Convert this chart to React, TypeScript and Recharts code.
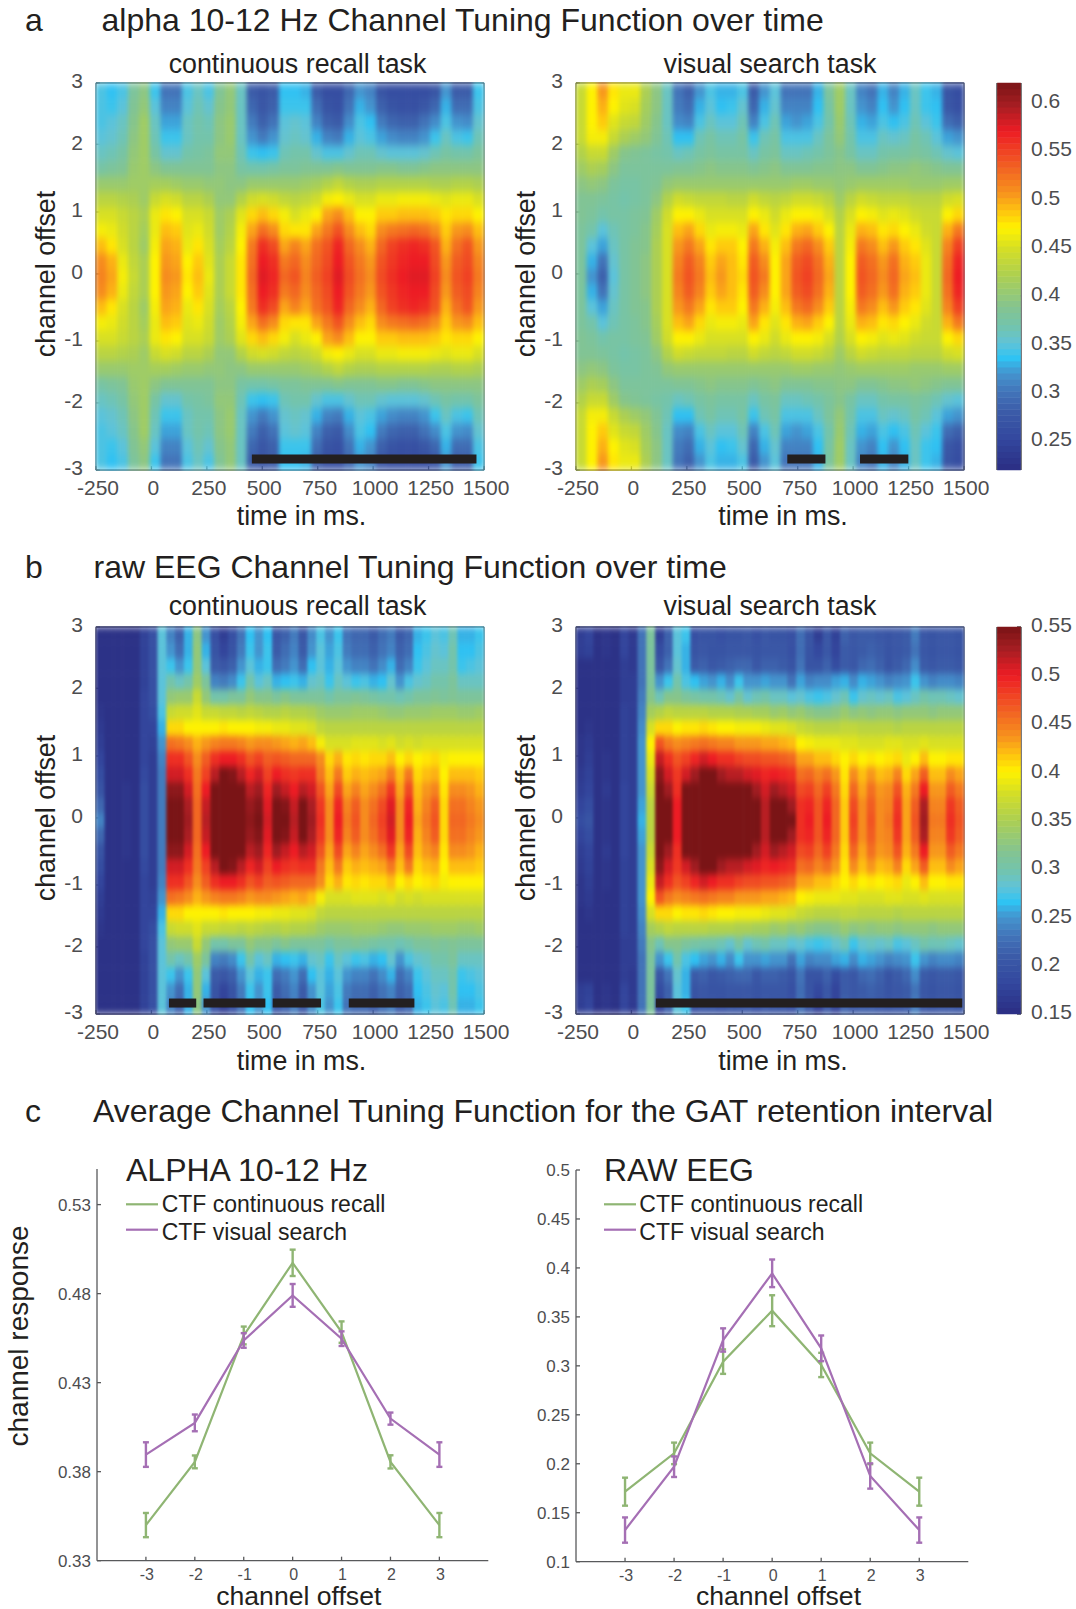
import React from 'react';
import { ScatterChart, Scatter, XAxis, YAxis, LineChart, Line, ErrorBar } from 'recharts';

const timeTicks = [-250, 0, 250, 500, 750, 1000, 1250, 1500];
const offsetTickPositions = [3, 2.05, 1, 0.04, -1, -1.96, -3];
const offsetBands = [0, 0.24, 0.48, 0.72, 0.96, 1.2, 1.44, 1.68, 1.92, 2.16, 2.4, 2.64, 2.88];

const alphaRecall = [
[.515,.50,.465,.44,.42,.47,.51,.505,.475,.49,.46,.42,.44,.475,.53,.575,.565,.53,.54,.515,.535,.55,.575,.545,.525,.51,.545,.56,.57,.575,.575,.55,.51,.54,.55,.52],
[.51,.495,.46,.435,.42,.47,.505,.50,.47,.485,.455,.42,.44,.475,.525,.57,.56,.52,.53,.51,.53,.545,.57,.54,.52,.505,.54,.555,.565,.57,.57,.545,.505,.535,.545,.515],
[.49,.475,.45,.43,.41,.465,.50,.495,.46,.475,.45,.415,.43,.47,.52,.56,.545,.50,.515,.50,.525,.54,.565,.53,.51,.495,.53,.55,.56,.565,.56,.54,.495,.525,.54,.505],
[.465,.46,.445,.43,.415,.46,.49,.485,.455,.46,.445,.41,.425,.465,.50,.525,.51,.48,.475,.475,.50,.52,.54,.51,.49,.48,.51,.52,.525,.53,.525,.51,.485,.505,.51,.49],
[.45,.45,.44,.43,.42,.46,.475,.47,.45,.45,.44,.41,.42,.455,.48,.49,.48,.465,.45,.46,.47,.50,.51,.49,.47,.47,.485,.485,.49,.49,.49,.485,.475,.48,.48,.47],
[.43,.43,.425,.42,.41,.44,.45,.445,.43,.43,.42,.40,.40,.425,.445,.45,.445,.435,.43,.435,.445,.465,.47,.46,.45,.45,.46,.46,.465,.465,.465,.46,.455,.46,.46,.45],
[.405,.405,.405,.41,.41,.415,.415,.41,.405,.405,.40,.40,.395,.395,.405,.405,.405,.405,.405,.41,.415,.425,.435,.425,.42,.42,.425,.425,.425,.425,.425,.42,.42,.425,.425,.42],
[.375,.38,.385,.405,.41,.395,.385,.385,.385,.385,.385,.395,.395,.375,.37,.37,.375,.38,.38,.385,.385,.385,.39,.385,.385,.385,.39,.39,.385,.385,.39,.395,.395,.395,.395,.395],
[.36,.365,.375,.40,.41,.375,.355,.355,.37,.375,.38,.40,.40,.365,.34,.335,.34,.365,.37,.37,.355,.345,.345,.355,.365,.365,.355,.35,.35,.35,.355,.365,.375,.37,.37,.38],
[.35,.355,.365,.395,.41,.365,.34,.34,.36,.37,.37,.395,.405,.36,.32,.305,.32,.355,.36,.355,.33,.31,.305,.33,.35,.345,.325,.315,.31,.31,.32,.34,.36,.345,.34,.365],
[.345,.35,.36,.39,.41,.36,.325,.325,.36,.37,.365,.395,.405,.36,.305,.285,.30,.35,.355,.35,.31,.285,.28,.315,.345,.335,.305,.29,.285,.285,.30,.315,.345,.32,.315,.355],
[.345,.34,.35,.385,.40,.35,.31,.31,.35,.365,.355,.39,.40,.36,.29,.275,.285,.34,.34,.34,.295,.27,.265,.30,.33,.32,.285,.27,.265,.265,.275,.29,.33,.295,.295,.345],
[.345,.335,.345,.38,.395,.34,.30,.30,.345,.36,.345,.385,.40,.36,.28,.27,.28,.335,.335,.33,.28,.26,.26,.29,.32,.31,.27,.26,.26,.26,.26,.27,.32,.28,.28,.34],
];
const alphaSearch = [
[.38,.32,.285,.35,.375,.385,.395,.42,.45,.52,.54,.52,.49,.505,.49,.48,.54,.52,.47,.50,.54,.55,.53,.50,.43,.47,.54,.53,.51,.53,.50,.49,.46,.44,.53,.57],
[.38,.33,.30,.355,.375,.385,.395,.42,.45,.515,.535,.515,.485,.50,.49,.475,.535,.51,.47,.50,.535,.545,.525,.495,.43,.47,.535,.525,.505,.525,.495,.485,.46,.44,.525,.565],
[.38,.35,.325,.36,.375,.385,.39,.42,.45,.505,.52,.50,.475,.485,.485,.47,.52,.495,.465,.49,.52,.53,.51,.485,.43,.465,.52,.51,.49,.505,.485,.475,.455,.44,.515,.55],
[.38,.37,.35,.365,.375,.38,.39,.415,.45,.49,.50,.48,.46,.465,.465,.46,.50,.475,.455,.475,.495,.50,.485,.47,.43,.46,.495,.49,.475,.48,.47,.46,.445,.44,.495,.52],
[.385,.38,.37,.375,.375,.38,.385,.41,.445,.47,.47,.46,.45,.45,.45,.45,.47,.46,.445,.46,.47,.47,.465,.45,.425,.45,.47,.465,.455,.46,.455,.445,.44,.44,.47,.48],
[.385,.385,.38,.375,.37,.375,.38,.395,.425,.445,.44,.435,.435,.435,.43,.43,.445,.435,.43,.435,.445,.445,.44,.43,.41,.43,.445,.44,.435,.435,.435,.43,.43,.43,.445,.45],
[.395,.40,.395,.38,.375,.375,.38,.385,.40,.405,.405,.405,.405,.405,.405,.405,.405,.405,.405,.405,.41,.41,.405,.405,.40,.405,.41,.41,.41,.41,.41,.405,.405,.405,.41,.41],
[.41,.42,.415,.395,.38,.38,.38,.38,.38,.385,.385,.39,.395,.39,.39,.39,.385,.39,.395,.385,.385,.385,.39,.39,.395,.395,.385,.385,.39,.395,.395,.40,.395,.39,.385,.385],
[.425,.44,.44,.41,.39,.385,.38,.375,.37,.36,.365,.375,.38,.375,.375,.375,.36,.375,.38,.36,.36,.365,.37,.38,.39,.375,.36,.36,.37,.375,.375,.38,.375,.365,.355,.35],
[.44,.465,.465,.44,.42,.41,.40,.385,.365,.335,.335,.365,.375,.365,.365,.375,.34,.365,.375,.345,.345,.345,.36,.38,.40,.37,.345,.345,.36,.355,.36,.375,.365,.35,.325,.32],
[.44,.47,.485,.455,.44,.435,.41,.39,.36,.315,.31,.345,.36,.35,.35,.365,.31,.345,.365,.325,.32,.325,.345,.37,.405,.365,.33,.325,.345,.335,.345,.365,.35,.34,.295,.285],
[.44,.47,.495,.47,.455,.45,.415,.395,.36,.305,.295,.33,.35,.335,.34,.355,.29,.33,.355,.31,.31,.31,.335,.375,.41,.36,.32,.31,.335,.32,.335,.36,.34,.335,.275,.265],
[.44,.47,.505,.475,.46,.46,.42,.395,.36,.30,.285,.32,.345,.33,.33,.345,.28,.32,.35,.30,.30,.30,.33,.38,.41,.36,.31,.30,.33,.31,.33,.36,.34,.33,.27,.26],
];
const rawRecall = [
[.24,.155,.155,.16,.155,.19,.17,.235,.55,.55,.53,.46,.52,.56,.56,.56,.56,.54,.55,.51,.55,.55,.52,.55,.53,.49,.44,.50,.45,.47,.44,.46,.48,.51,.44,.50,.43,.45,.47,.41,.46,.46,.45,.44],
[.22,.155,.155,.16,.155,.19,.17,.235,.55,.55,.525,.46,.515,.56,.56,.56,.56,.535,.545,.505,.55,.545,.515,.55,.525,.485,.44,.495,.445,.465,.44,.455,.475,.505,.44,.495,.425,.445,.465,.41,.455,.455,.445,.435],
[.20,.155,.155,.16,.155,.19,.17,.235,.54,.54,.51,.455,.50,.55,.56,.56,.55,.52,.53,.495,.53,.515,.50,.52,.51,.47,.43,.475,.43,.445,.43,.44,.455,.485,.43,.475,.42,.435,.445,.405,.44,.44,.435,.425],
[.19,.155,.155,.155,.155,.185,.17,.235,.51,.51,.49,.45,.48,.52,.55,.545,.52,.495,.51,.48,.50,.49,.485,.49,.49,.45,.42,.45,.415,.425,.42,.425,.43,.45,.42,.45,.41,.42,.425,.40,.42,.42,.42,.415],
[.18,.155,.155,.155,.155,.18,.17,.24,.49,.49,.47,.44,.465,.49,.50,.50,.49,.47,.48,.465,.47,.465,.46,.46,.46,.44,.41,.425,.405,.41,.405,.41,.41,.42,.40,.41,.40,.405,.41,.395,.40,.40,.40,.40],
[.17,.155,.155,.155,.155,.18,.175,.25,.455,.45,.44,.425,.435,.445,.45,.45,.445,.435,.44,.44,.435,.43,.425,.43,.42,.395,.38,.38,.38,.385,.385,.385,.38,.385,.375,.38,.375,.38,.38,.38,.38,.38,.38,.38],
[.165,.155,.155,.155,.155,.18,.18,.26,.41,.41,.40,.40,.40,.40,.405,.40,.40,.40,.395,.395,.39,.39,.385,.385,.38,.365,.36,.36,.36,.36,.36,.36,.36,.36,.36,.36,.36,.36,.36,.36,.36,.36,.36,.36],
[.16,.155,.155,.155,.155,.18,.19,.275,.37,.375,.375,.385,.37,.37,.365,.365,.36,.365,.36,.355,.355,.36,.355,.355,.35,.34,.335,.335,.335,.34,.34,.34,.335,.33,.33,.335,.335,.335,.34,.34,.34,.335,.335,.34],
[.155,.155,.155,.155,.155,.18,.195,.28,.33,.335,.335,.37,.33,.30,.30,.31,.31,.33,.32,.32,.31,.32,.31,.31,.31,.31,.30,.31,.31,.315,.31,.305,.30,.30,.295,.30,.31,.31,.315,.31,.315,.31,.31,.31],
[.155,.155,.155,.155,.155,.175,.195,.28,.30,.29,.30,.34,.31,.24,.235,.245,.27,.30,.28,.29,.26,.265,.27,.26,.285,.29,.27,.29,.28,.27,.275,.26,.265,.285,.25,.275,.285,.29,.30,.30,.31,.29,.29,.29],
[.155,.155,.155,.155,.155,.175,.195,.28,.27,.25,.27,.33,.28,.21,.205,.215,.25,.28,.26,.27,.225,.235,.25,.225,.265,.28,.26,.28,.25,.24,.24,.23,.245,.26,.225,.24,.27,.28,.29,.29,.30,.27,.275,.28],
[.155,.155,.155,.155,.155,.175,.195,.28,.25,.225,.26,.33,.26,.20,.18,.20,.235,.27,.25,.27,.21,.225,.24,.21,.25,.28,.255,.275,.235,.225,.225,.215,.23,.24,.215,.225,.265,.275,.285,.28,.30,.265,.265,.275],
[.155,.155,.155,.155,.155,.175,.195,.28,.24,.215,.26,.325,.25,.195,.17,.195,.23,.265,.25,.265,.205,.215,.235,.205,.245,.275,.25,.27,.23,.22,.22,.21,.225,.235,.21,.22,.26,.27,.28,.275,.295,.26,.26,.27],
];
const rawSearch = [
[.19,.20,.155,.16,.155,.18,.17,.26,.36,.56,.56,.50,.56,.57,.57,.57,.57,.57,.57,.57,.57,.52,.56,.56,.55,.49,.50,.47,.50,.46,.415,.48,.44,.47,.44,.45,.49,.43,.47,.53,.45,.45,.49,.47],
[.18,.19,.155,.16,.155,.18,.17,.255,.36,.56,.55,.50,.56,.57,.57,.57,.57,.57,.57,.57,.565,.52,.555,.555,.53,.49,.495,.47,.495,.46,.415,.475,.44,.465,.44,.445,.485,.43,.465,.525,.445,.445,.485,.465],
[.17,.18,.155,.165,.155,.18,.17,.25,.37,.55,.53,.49,.55,.56,.565,.57,.56,.55,.55,.55,.53,.51,.53,.52,.51,.475,.48,.46,.48,.45,.41,.46,.43,.455,.435,.44,.47,.425,.45,.50,.435,.435,.465,.45],
[.165,.175,.155,.16,.155,.175,.17,.25,.38,.54,.51,.485,.51,.53,.55,.55,.53,.52,.52,.51,.505,.495,.50,.495,.49,.455,.46,.445,.455,.435,.405,.44,.42,.435,.42,.425,.445,.41,.43,.465,.42,.42,.44,.43],
[.16,.17,.155,.16,.155,.175,.17,.25,.39,.515,.49,.47,.48,.495,.51,.50,.49,.49,.48,.475,.475,.47,.47,.465,.46,.43,.43,.42,.42,.41,.40,.41,.40,.405,.40,.405,.41,.39,.40,.42,.40,.40,.405,.405],
[.16,.165,.155,.155,.155,.175,.17,.25,.40,.47,.45,.44,.445,.45,.455,.45,.445,.445,.435,.435,.435,.43,.43,.425,.42,.40,.395,.39,.39,.39,.385,.385,.38,.38,.38,.385,.385,.38,.38,.385,.38,.38,.38,.38],
[.155,.16,.155,.155,.155,.175,.17,.245,.38,.41,.41,.40,.405,.405,.41,.405,.40,.40,.395,.395,.395,.39,.385,.385,.38,.37,.365,.36,.36,.36,.365,.365,.36,.36,.36,.36,.355,.36,.36,.36,.36,.36,.36,.36],
[.155,.155,.155,.155,.155,.175,.17,.24,.345,.355,.365,.36,.36,.36,.36,.355,.355,.355,.35,.35,.345,.345,.335,.34,.33,.335,.325,.32,.32,.325,.335,.325,.33,.325,.33,.33,.325,.33,.33,.33,.325,.33,.33,.33],
[.155,.155,.155,.155,.155,.17,.17,.235,.32,.295,.32,.32,.31,.305,.30,.30,.295,.285,.305,.285,.295,.30,.29,.29,.28,.285,.275,.27,.275,.285,.295,.27,.285,.29,.285,.29,.275,.28,.29,.30,.295,.295,.29,.285],
[.155,.155,.155,.155,.155,.17,.17,.23,.31,.25,.27,.30,.275,.265,.255,.25,.26,.245,.27,.25,.25,.255,.25,.25,.23,.255,.24,.245,.245,.255,.26,.245,.26,.255,.25,.24,.245,.25,.27,.25,.24,.245,.245,.24],
[.155,.155,.155,.155,.155,.17,.165,.23,.31,.205,.23,.285,.26,.21,.215,.205,.21,.215,.22,.22,.205,.215,.215,.21,.20,.23,.20,.20,.215,.19,.21,.205,.22,.225,.215,.20,.21,.22,.245,.21,.205,.21,.21,.205],
[.17,.175,.155,.16,.155,.18,.165,.23,.31,.19,.215,.28,.26,.20,.205,.20,.20,.205,.205,.205,.20,.205,.205,.205,.195,.225,.20,.185,.205,.18,.21,.205,.21,.215,.21,.20,.205,.21,.23,.205,.20,.205,.205,.20],
[.17,.18,.155,.16,.155,.18,.165,.23,.31,.175,.215,.28,.27,.195,.20,.20,.195,.20,.20,.205,.195,.205,.20,.20,.195,.225,.20,.17,.205,.175,.215,.205,.21,.21,.205,.20,.205,.21,.235,.205,.20,.205,.205,.20],
];

const sigAlphaRecall = [[453, 1466]];
const sigAlphaSearch = [[703, 875], [1031, 1249]];
const sigRawRecall = [[79, 202], [235, 514], [547, 765], [890, 1186]];
const sigRawSearch = [[110, 1492]];

const alphaClim = [0.22, 0.62];
const rawClim = [0.15, 0.55];
const alphaBarTicks = [0.25, 0.3, 0.35, 0.4, 0.45, 0.5, 0.55, 0.6];
const rawBarTicks = [0.15, 0.2, 0.25, 0.3, 0.35, 0.4, 0.45, 0.5, 0.55];

const lineOffsets = [-3, -2, -1, 0, 1, 2, 3];
const alphaGreen = [.35, .3855, .4565, .4973, .4584, .3855, .35];
const alphaGreenErr = [.0068, .0036, .005, .0074, .006, .0037, .0068];
const alphaPurple = [.3896, .4074, .4537, .479, .4547, .4098, .3896];
const alphaPurpleErr = [.0069, .0047, .0041, .0064, .0041, .0034, .0069];
const rawGreen = [.1715, .2106, .3043, .3563, .3009, .2106, .1715];
const rawGreenErr = [.0143, .011, .0125, .0158, .0124, .011, .0143];
const rawPurple = [.1323, .197, .3264, .3945, .3179, .1875, .1323];
const rawPurpleErr = [.0129, .0105, .0119, .0141, .0131, .0129, .0129];
const alphaLineTicks = [0.33, 0.38, 0.43, 0.48, 0.53];
const rawLineTicks = [0.1, 0.15, 0.2, 0.25, 0.3, 0.35, 0.4, 0.45, 0.5];
const legendLabels = ['CTF continuous recall', 'CTF visual search'];

const cmap: [number, string][] = [
  [0, '#2b2e83'], [.08, '#33479e'], [.15, '#3b5ba8'], [.2, '#4273b8'], [.25, '#4494ce'], [.29, '#2fc4f4'],
  [.33, '#62c3d6'], [.37, '#72c4ae'], [.42, '#84c490'], [.505, '#aed04f'], [.57, '#d4de26'], [.626, '#fff200'],
  [.68, '#fdb913'], [.715, '#f7941d'], [.777, '#f26522'], [.875, '#ed1c24'], [.94, '#a81e23'], [1, '#7a1416'],
];
const hex = (s: string) => [1, 3, 5].map(i => parseInt(s.slice(i, i + 2), 16));
function colorAt(f: number) {
  const t = Math.max(0, Math.min(1, f));
  for (let i = 1; i < cmap.length; i++) {
    if (t <= cmap[i][0]) {
      const u = (t - cmap[i - 1][0]) / (cmap[i][0] - cmap[i - 1][0]);
      const a = hex(cmap[i - 1][1]), b = hex(cmap[i][1]);
      return `rgb(${a.map((v, k) => Math.round(v + (b[k] - v) * u)).join(',')})`;
    }
  }
  return cmap[cmap.length - 1][1];
}

const AXIS = '#58595b';
const TICKTXT = '#4d4d4f';
const INK = '#231f20';
const GREEN = '#8fb573';
const PURPLE = '#a56fb4';

function buildCells(grid: number[][]) {
  const out: { t: number; c: number; v: number }[] = [];
  grid.forEach((row, r) => {
    const dt = 1750 / row.length;
    row.forEach((v, i) => {
      const t = -250 + (i + 0.5) * dt;
      out.push({ t, c: offsetBands[r], v });
      if (r > 0) out.push({ t, c: -offsetBands[r], v });
    });
  });
  return out;
}

const noDot = () => <g />;

function Heat({ left, top, grid, clim, sig, soft }: { left: number; top: number; grid: number[][]; clim: number[]; sig: number[][]; soft: string }) {
  const w = 388;
  const h = 387;
  const cw = w / grid[0].length + 0.6;
  const ch = h / 25 + 0.6;
  const cells = buildCells(grid);
  const shape = (p: any) => (
    <rect x={p.cx - cw / 2} y={p.cy - ch / 2} width={cw} height={ch} fill={colorAt((p.payload.v - clim[0]) / (clim[1] - clim[0]))} />
  );
  return (
    <div style={{ position: 'absolute', left: left - 60, top: top - 17 }}>
      <ScatterChart width={w + 92} height={h + 63} margin={{ top: 16, right: 31, bottom: 6, left: 0 }}>
        <Scatter className={soft} data={cells} shape={shape} isAnimationActive={false} />
        {sig.map((s, i) => (
          <Scatter key={i} data={[{ t: s[0], c: -2.83 }, { t: s[1], c: -2.83 }]} shape={noDot}
            line={{ stroke: INK, strokeWidth: 9 }} isAnimationActive={false} />
        ))}
        <XAxis type="number" dataKey="t" domain={[-250, 1500]} ticks={timeTicks} interval={0} height={40}
          stroke={AXIS} strokeWidth={1.3} tickSize={-4} tickMargin={14} tick={{ fontSize: 21, fill: TICKTXT, dx: 2 }} />
        <XAxis xAxisId="top" orientation="top" type="number" domain={[-250, 1500]} ticks={timeTicks} interval={0} height={1}
          stroke={AXIS} strokeWidth={1.3} tickSize={-4} tick={false} />
        <YAxis type="number" dataKey="c" domain={[-3, 3]} ticks={offsetTickPositions} interval={0} width={60}
          stroke={AXIS} strokeWidth={1.3} tickSize={-4} tickMargin={17} tick={{ fontSize: 21, fill: TICKTXT, dy: -2 }} tickFormatter={(v: number) => String(Math.round(v))} />
        <YAxis yAxisId="right" orientation="right" type="number" domain={[-3, 3]} ticks={offsetTickPositions} interval={0} width={1}
          stroke={AXIS} strokeWidth={1.3} tickSize={-4} tick={false} />
      </ScatterChart>
    </div>
  );
}

function ColorBar({ top, clim, ticks }: { top: number; clim: number[]; ticks: number[] }) {
  const h = 387;
  const step = (clim[1] - clim[0]) / 64;
  const levels = Array.from({ length: 64 }, (_, i) => ({ x: 0.5, y: clim[0] + (i + 0.5) * step, f: (i + 0.5) / 64 }));
  const ch = h / 64 + 0.5;
  const shape = (p: any) => <rect x={p.cx - 11.8} y={p.cy - ch / 2} width={23.6} height={ch} fill={colorAt(p.payload.f)} />;
  return (
    <div style={{ position: 'absolute', left: 995.7, top: top - 20 }}>
      <ScatterChart width={79} height={h + 40} margin={{ top: 20, right: 53, bottom: 20, left: 0 }}>
        <Scatter data={levels} shape={shape} isAnimationActive={false} />
        <XAxis type="number" dataKey="x" domain={[0, 1]} hide />
        <YAxis type="number" dataKey="y" orientation="right" domain={clim} ticks={ticks} interval={0} width={1}
          stroke={AXIS} strokeWidth={1.6} tickSize={-4} tickMargin={14} tick={{ fontSize: 21, fill: TICKTXT, textAnchor: 'start', dy: -2 }} />
        <YAxis yAxisId="l" type="number" domain={clim} ticks={ticks} width={1} stroke={AXIS} strokeWidth={1.6} tick={false} tickLine={false} />
      </ScatterChart>
    </div>
  );
}

function Tuning({ left, width, top, height, domain, ticks, green, greenErr, purple, purpleErr }:
  { left: number; width: number; top: number; height: number; domain: number[]; ticks: number[]; green: number[]; greenErr: number[]; purple: number[]; purpleErr: number[] }) {
  const data = lineOffsets.map((x, i) => ({ x, green: green[i], greenErr: greenErr[i], purple: purple[i], purpleErr: purpleErr[i] }));
  return (
    <div style={{ position: 'absolute', left: left - 60, top: top - 10 }}>
      <LineChart width={width + 70} height={height + 60} data={data} margin={{ top: 10, right: 10, bottom: 10, left: 0 }}>
        <XAxis dataKey="x" type="number" domain={[-4, 4]} ticks={lineOffsets} interval={0} height={40} stroke={AXIS} strokeWidth={1.3}
          tickSize={-4} tickMargin={12} tick={{ fontSize: 16, fill: TICKTXT, dx: 1 }} />
        <YAxis type="number" domain={domain} ticks={ticks} interval={0} width={60} stroke={AXIS} strokeWidth={1.3}
          tickSize={-4} tickMargin={10} tick={{ fontSize: 17, fill: TICKTXT }} />
        <Line dataKey="green" stroke={GREEN} strokeWidth={2.2} dot={false} isAnimationActive={false}>
          <ErrorBar dataKey="greenErr" direction="y" width={3} stroke={GREEN} strokeWidth={2.4} isAnimationActive={false} />
        </Line>
        <Line dataKey="purple" stroke={PURPLE} strokeWidth={2.2} dot={false} isAnimationActive={false}>
          <ErrorBar dataKey="purpleErr" direction="y" width={3} stroke={PURPLE} strokeWidth={2.4} isAnimationActive={false} />
        </Line>
      </LineChart>
    </div>
  );
}

const T = (p: any) => <text fill={INK} {...p} />;

function Overlay() {
  const yLabel = (x: number, y: number) => (
    <T transform={`translate(${x},${y}) rotate(-90)`} textAnchor="middle" fontSize={26.8}>channel offset</T>
  );
  const mid = (x: number, y: number, s: string, fs = 26.8) => <T x={x} y={y} textAnchor="middle" fontSize={fs}>{s}</T>;
  const legend = (x0: number, tx: number) => (
    <g>
      <line x1={x0} x2={x0 + 32} y1={1204.3} y2={1204.3} stroke={GREEN} strokeWidth={2.2} />
      <line x1={x0} x2={x0 + 32} y1={1229.7} y2={1229.7} stroke={PURPLE} strokeWidth={2.2} />
      <T x={tx} y={1211.7} fontSize={23}>{legendLabels[0]}</T>
      <T x={tx} y={1240} fontSize={23}>{legendLabels[1]}</T>
    </g>
  );
  return (
    <svg width={1076} height={1609} style={{ position: 'absolute', left: 0, top: 0, pointerEvents: 'none' }}>
      <T x={25} y={31} fontSize={32}>a</T>
      <T x={101.5} y={31} fontSize={32}>alpha 10-12 Hz Channel Tuning Function over time</T>
      <T x={25} y={578} fontSize={32}>b</T>
      <T x={93.5} y={578} fontSize={32}>raw EEG Channel Tuning Function over time</T>
      <T x={25} y={1122} fontSize={32}>c</T>
      <T x={93} y={1122} fontSize={32}>Average Channel Tuning Function for the GAT retention interval</T>
      {mid(297.5, 72.5, 'continuous recall task')}
      {mid(770, 72.5, 'visual search task')}
      {mid(297.5, 615, 'continuous recall task')}
      {mid(770, 615, 'visual search task')}
      {mid(301.5, 525, 'time in ms.')}
      {mid(783, 525, 'time in ms.')}
      {mid(301.5, 1069.5, 'time in ms.')}
      {mid(783, 1069.5, 'time in ms.')}
      {yLabel(55, 274)}
      {yLabel(535, 274)}
      {yLabel(55, 818)}
      {yLabel(535, 818)}
      <T transform="translate(28,1336) rotate(-90)" textAnchor="middle" fontSize={28}>channel response</T>
      {mid(298.8, 1605, 'channel offset', 26.6)}
      {mid(778.5, 1605, 'channel offset', 26.6)}
      <T x={126} y={1181} fontSize={32}>ALPHA 10-12 Hz</T>
      <T x={604} y={1181} fontSize={32}>RAW EEG</T>
      {legend(126, 161.7)}
      {legend(604, 639.3)}
    </svg>
  );
}

export default function App() {
  return (
    <div style={{ position: 'absolute', left: 0, top: 0, width: 1076, height: 1609, background: '#fff', fontFamily: '"Liberation Sans", Arial, sans-serif', overflow: 'hidden' }}>
      <style>{`.softAlpha{filter:url(#blurAlpha)} .softRaw{filter:url(#blurRaw)}`}</style>
      <svg width={0} height={0} style={{ position: 'absolute' }}>
        <defs>
          <filter id="blurAlpha" x="0" y="0" width="1" height="1" colorInterpolationFilters="sRGB">
            <feGaussianBlur stdDeviation="2.2 4" edgeMode="duplicate" />
          </filter>
          <filter id="blurRaw" x="0" y="0" width="1" height="1" colorInterpolationFilters="sRGB">
            <feGaussianBlur stdDeviation="1.4 3.6" edgeMode="duplicate" />
          </filter>
        </defs>
      </svg>
      <Heat left={96.3} top={82.7} grid={alphaRecall} clim={alphaClim} sig={sigAlphaRecall} soft="softAlpha" />
      <Heat left={576.3} top={82.7} grid={alphaSearch} clim={alphaClim} sig={sigAlphaSearch} soft="softAlpha" />
      <ColorBar top={82.7} clim={alphaClim} ticks={alphaBarTicks} />
      <Heat left={96.3} top={626.7} grid={rawRecall} clim={rawClim} sig={sigRawRecall} soft="softRaw" />
      <Heat left={576.3} top={626.7} grid={rawSearch} clim={rawClim} sig={sigRawSearch} soft="softRaw" />
      <ColorBar top={626.7} clim={rawClim} ticks={rawBarTicks} />
      <Tuning left={96.7} width={391.3} top={1169} height={391.7} domain={[0.33, 0.55]} ticks={alphaLineTicks}
        green={alphaGreen} greenErr={alphaGreenErr} purple={alphaPurple} purpleErr={alphaPurpleErr} />
      <Tuning left={576} width={392.3} top={1170} height={391.7} domain={[0.1, 0.5]} ticks={rawLineTicks}
        green={rawGreen} greenErr={rawGreenErr} purple={rawPurple} purpleErr={rawPurpleErr} />
      <Overlay />
    </div>
  );
}
